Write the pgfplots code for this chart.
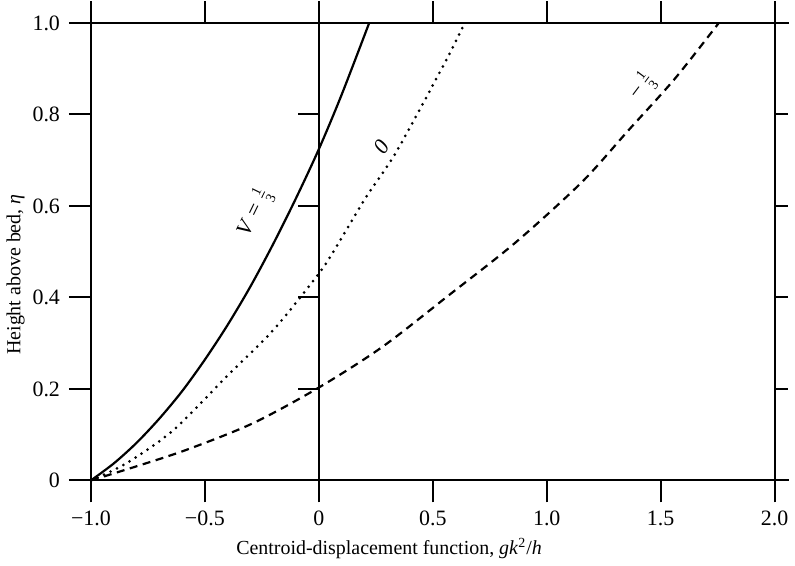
\documentclass[border=0pt]{standalone}
\usepackage{fontspec}
\setmainfont{Liberation Serif}
\usepackage{pgfplots}
\pgfplotsset{compat=1.18}

\pgfplotstableread{
x y
-1.000 0.000
-0.900 0.037
-0.800 0.082
-0.700 0.135
-0.600 0.195
-0.500 0.264
-0.400 0.340
-0.300 0.424
-0.200 0.517
-0.100 0.617
0.000 0.724
0.100 0.843
0.221 1.000
}\solidV

\pgfplotstableread{
x y
-1.000 0.000
-0.843 0.038
-0.638 0.110
-0.405 0.227
-0.201 0.328
0.000 0.452
0.076 0.510
0.207 0.619
0.342 0.720
0.557 0.917
0.640 1.000
}\dottedV

\pgfplotstableread{
x y
-1.000 0.000
-0.799 0.031
-0.580 0.067
-0.289 0.125
0.000 0.203
0.279 0.292
0.571 0.405
0.863 0.520
1.154 0.652
1.358 0.765
1.562 0.878
1.755 1.000
}\dashedV

\begin{document}
\begin{tikzpicture}
\begin{axis}[
    scale only axis,
    width=343pt, height=229.5pt,
    xmin=-1, xmax=2, ymin=0, ymax=1,
    axis line style={line width=1pt},
    clip=false,
    tick align=outside,
    major tick length=11pt,
    tick style={line width=1pt, black},
    xtick={-1,-0.5,0,0.5,1,1.5,2},
    xticklabels={−1.0,−0.5,0,0.5,1.0,1.5,2.0},
    ytick={0,0.2,0.4,0.6,0.8,1},
    yticklabels={0,0.2,0.4,0.6,0.8,1.0},
    xtick pos=both,
    ytick pos=left,
    xticklabel pos=bottom,
    tick label style={font=\fontsize{11}{13}\selectfont},
    xticklabel style={yshift=-1pt},
    yticklabel style={xshift=-1pt},
    xlabel={Centroid-displacement function, \textit{gk}\textsuperscript{2}/\textit{h}},
    ylabel={Height above bed, \textit{η}},
    label style={font=\fontsize{11}{13}\selectfont},
    every axis x label/.style={at={(rel axis cs:0.436,-0.148)}, anchor=center},
    every axis y label/.style={at={(rel axis cs:-0.11,0.45)}, anchor=center, rotate=90},
]
\addplot[black, line width=1.1pt, smooth] table {\solidV};
\addplot[black, line width=1.5pt, smooth, line cap=round, dash pattern=on 0pt off 3.6pt] table {\dottedV};
\addplot[black, line width=1.1pt, smooth, dash pattern=on 4pt off 2.8pt] table {\dashedV};

% inner line at x = 0 with ticks pointing left, short ticks on the right frame
\draw[line width=1pt] (axis cs:0,0) -- (axis cs:0,1);
\pgfplotsinvokeforeach{0.2,0.4,0.6,0.8}{
  \draw[line width=1pt] (axis cs:0,#1) -- ++(-10.5pt,0pt);
  \draw[line width=1pt] (axis cs:2,#1) -- ++(6.5pt,0pt);
}
% top and bottom lines run a little past the frame
\draw[line width=1pt] (axis cs:-1,1) -- ++(-7pt,0pt);
\draw[line width=1pt] (axis cs:2,1) -- ++(7pt,0pt);
\draw[line width=1pt] (axis cs:-1,0) -- ++(-7pt,0pt);
\draw[line width=1pt] (axis cs:2,0) -- ++(7pt,0pt);

\node[rotate=64, font=\fontsize{11}{12}\selectfont] at (axis cs:-0.28,0.586)
  {\textit{V} = $\frac{\mbox{\fontsize{7}{8}\selectfont 1}}{\mbox{\fontsize{7}{8}\selectfont 3}}$};
\node[rotate=56, font=\fontsize{11}{12}\selectfont] at (axis cs:0.277,0.728) {\textit{0}};
\node[rotate=53, font=\fontsize{11}{12}\selectfont] at (axis cs:1.42,0.862)
  {−\,$\frac{\mbox{\fontsize{7}{8}\selectfont 1}}{\mbox{\fontsize{7}{8}\selectfont 3}}$};
\end{axis}
\end{tikzpicture}
\end{document}
